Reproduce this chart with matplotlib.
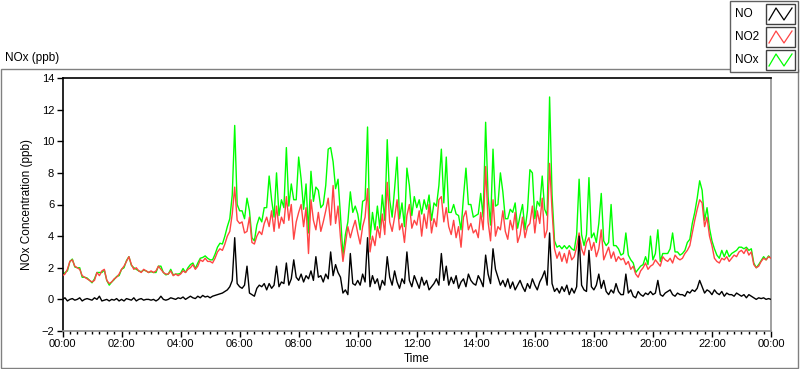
import numpy as np
import matplotlib.pyplot as plt
from matplotlib.lines import Line2D
from matplotlib.patches import Rectangle
from matplotlib.ticker import MultipleLocator, FixedLocator

# 5-minute readings over one day (ppb), one row per hour
no2 = [
    1.5, 1.6, 1.9, 2.4, 2.5, 2.1, 2.0, 1.9, 1.5, 1.4, 1.3, 1.2,
    1.1, 1.2, 1.7, 1.5, 1.8, 1.9, 1.2, 1.0, 1.1, 1.3, 1.4, 1.6,
    1.9, 2.1, 2.4, 2.7, 2.2, 1.9, 2.0, 1.8, 1.7, 1.9, 1.8, 1.7,
    1.8, 1.7, 1.8, 2.1, 1.9, 1.7, 1.6, 1.6, 1.8, 1.5, 1.6, 1.5,
    1.6, 1.8, 1.7, 1.9, 2.0, 2.2, 1.9, 2.1, 2.5, 2.4, 2.6, 2.4,
    2.4, 2.3, 2.6, 3.0, 3.2, 3.1, 3.5, 4.0, 4.3, 5.4, 7.1, 5.0,
    4.8, 4.9, 4.2, 4.3, 5.2, 3.6, 3.5, 4.0, 4.3, 4.1, 4.8, 5.2,
    4.6, 5.6, 4.3, 5.9, 4.5, 5.2, 4.8, 6.5, 5.0, 6.0, 3.8, 4.9,
    5.5, 6.0, 4.6, 5.8, 2.9, 6.3, 5.0, 4.4, 5.5, 4.3, 4.9, 5.6,
    6.4, 4.7, 7.2, 4.8, 5.9, 3.9, 2.4, 3.5, 4.6, 3.9, 4.5, 5.0,
    4.2, 3.5, 4.6, 5.2, 7.0, 3.0, 4.0, 3.4, 4.6, 3.9, 5.4, 4.1,
    7.4, 4.9, 4.3, 5.2, 6.3, 4.4, 4.8, 3.6, 5.3, 6.0, 4.5, 5.0,
    4.7, 5.6, 4.0, 5.4, 4.5, 6.0, 4.2, 5.1, 4.6, 6.3, 6.5, 4.9,
    5.8, 4.6, 4.1, 5.0, 3.9, 4.6, 3.3, 5.2, 5.6, 4.4, 4.8, 4.2,
    4.4, 3.9, 5.5, 4.4, 8.4, 4.9, 3.7, 6.3, 4.0, 4.6, 4.4, 5.6,
    4.3, 3.8, 5.0, 4.4, 5.5, 3.6, 4.1, 5.2, 3.9, 4.6, 4.8, 5.9,
    4.2, 5.6, 4.8, 6.4, 3.9, 4.4, 8.6, 5.6, 3.2, 2.6, 3.0, 2.4,
    2.9, 2.3, 3.1, 2.5, 2.7, 3.3, 4.2, 3.2, 2.8, 3.6, 3.9, 3.1,
    3.6, 2.7, 3.2, 4.4, 2.5, 2.9, 3.3, 2.6, 3.0, 2.4, 2.7, 2.5,
    2.6, 2.2, 2.4, 1.9, 2.1, 1.6, 1.4, 1.8, 2.0, 2.3, 1.9, 2.1,
    2.2, 2.5, 2.3, 2.1, 2.7, 2.5, 2.4, 2.6, 2.3, 2.8, 2.6, 2.5,
    2.6, 2.9, 3.1, 3.4, 4.2, 5.0, 5.7, 6.3, 6.1, 4.6, 5.2, 4.0,
    3.4, 2.6, 2.4, 2.3, 2.6, 2.5, 2.7, 2.4, 2.6, 2.8, 2.7, 3.0,
    3.1, 2.9, 3.2, 2.8, 3.0, 2.2, 2.0, 2.1, 2.4, 2.6, 2.5, 2.7,
    2.6,
]

no = [
    0.0, 0.1, -0.1, 0.0, 0.05, -0.05, 0.0, 0.1, -0.1, 0.0, 0.05, 0.0,
    -0.05, 0.1, 0.0, 0.2, -0.1, -0.05, 0.0, -0.1, 0.0, -0.05, 0.05, -0.1,
    0.0, -0.1, 0.05, 0.0, -0.05, 0.1, -0.1, 0.0, 0.05, -0.05, 0.0, 0.0,
    -0.05, 0.0, -0.1, 0.0, 0.2, 0.0, -0.05, 0.0, 0.1, 0.05, 0.0, 0.1,
    0.05, 0.15, 0.0, 0.1, 0.2, 0.1, 0.05, 0.2, 0.1, 0.25, 0.15, 0.2,
    0.1, 0.2, 0.25, 0.3, 0.35, 0.4, 0.5, 0.6, 0.8, 1.2, 3.9, 1.0,
    0.8, 0.7, 0.9, 2.1, 0.4, 0.3, 0.2, 0.7, 0.9, 0.8, 1.0, 0.6,
    1.0, 0.7, 0.9, 2.1, 0.8, 1.1, 1.0, 2.3, 0.9, 1.3, 2.5, 1.4,
    1.2, 1.6, 1.1, 1.5, 1.3, 1.8, 1.2, 2.7, 1.4, 1.5, 1.1, 1.6,
    1.3, 3.0, 1.5, 2.2, 1.7, 1.4, 0.4, 0.6, 0.3, 2.9, 1.0, 0.9,
    1.2, 0.9, 1.6, 1.1, 3.9, 0.8, 1.5, 1.0, 1.3, 0.6, 1.2, 0.9,
    2.7, 1.4, 0.9, 1.8, 1.1, 0.7, 1.3, 1.0, 3.0, 1.2, 0.8, 1.5,
    1.1, 0.7, 1.4, 0.9, 1.2, 0.6, 0.8, 1.0, 1.3, 0.9, 2.9, 1.2,
    2.1, 0.9, 1.4, 1.0, 1.5, 0.7, 1.1, 1.3, 0.8, 1.6, 1.2, 1.0,
    0.9, 1.5, 1.2, 0.8, 2.8, 1.6, 1.0, 3.2, 1.9, 1.4, 0.9, 1.2,
    0.8, 1.3, 0.7, 1.1, 0.6, 0.9, 1.2, 0.8, 0.5, 1.0, 0.7, 1.3,
    0.9, 0.6, 1.1, 1.4, 1.8, 0.9, 4.2, 1.0, 0.5, 0.7, 0.4, 0.8,
    0.5, 0.9, 0.3, 0.7, 0.4, 0.8, 4.0, 0.9, 0.6, 0.5, 3.1, 0.8,
    0.6, 0.9, 1.6, 0.7, 1.2, 0.5, 0.3, 0.6, 0.4, 1.0, 0.5, 0.3,
    0.3, 1.6, 0.4, 0.6, 0.2, 0.1, 0.5, 0.3, 0.2, 0.4, 0.3, 0.5,
    0.3, 0.4, 1.2, 0.3, 0.2, 0.4, 0.5, 0.6, 0.3, 0.2, 0.4, 0.3,
    0.3, 0.2, 0.5, 0.4, 0.6, 0.5, 0.7, 1.2, 0.8, 0.4, 0.6, 0.5,
    0.3, 0.6, 0.4, 0.3, 0.5, 0.2, 0.4, 0.3, 0.3, 0.2, 0.4, 0.3,
    0.2, 0.3, 0.1, 0.3, 0.2, 0.1, 0.0, 0.1, 0.05, 0.1, 0.0, 0.05,
    0.0,
]

nox = [
    1.5, 1.7, 1.8, 2.4, 2.55, 2.05, 2.0, 2.0, 1.4, 1.4, 1.35, 1.2,
    1.05, 1.3, 1.7, 1.7, 1.7, 1.85, 1.2, 0.9, 1.1, 1.25, 1.45, 1.5,
    1.9, 2.0, 2.45, 2.7, 2.15, 2.0, 1.9, 1.8, 1.75, 1.85, 1.8, 1.7,
    1.75, 1.7, 1.7, 2.1, 2.1, 1.7, 1.55, 1.6, 1.9, 1.55, 1.6, 1.6,
    1.65, 1.95, 1.7, 2.0, 2.2, 2.3, 1.95, 2.3, 2.6, 2.65, 2.75, 2.6,
    2.5, 2.5, 2.85, 3.3, 3.55, 3.5, 4.0, 4.6, 5.1, 6.6, 11.0, 6.0,
    5.6, 5.6, 5.1, 6.4, 5.6, 3.9, 3.7, 4.7, 5.2, 4.9, 5.8, 5.8,
    7.8, 6.3, 5.2, 8.0, 5.3, 6.3, 5.8, 9.6, 5.9, 7.3, 6.3, 6.3,
    9.0, 7.6, 5.7, 7.3, 4.2, 8.1, 6.2, 7.1, 6.9, 5.8, 6.0, 7.2,
    9.5, 9.6, 8.7, 7.0, 7.6, 5.3, 2.8, 4.1, 4.9, 6.8, 5.5, 5.9,
    5.4, 4.4, 6.2, 6.3, 10.9, 3.8, 5.5, 4.4, 5.9, 4.5, 6.6, 5.0,
    10.1, 6.3, 5.2, 7.0, 9.0, 5.1, 6.1, 4.6, 8.3, 7.2, 5.3, 6.5,
    5.8, 6.3, 5.4, 6.3, 5.7, 6.6, 5.0, 6.1, 5.9, 7.2, 9.5, 6.1,
    9.0, 5.5, 5.5, 6.0, 5.4, 5.3, 4.4, 6.5, 8.3, 6.0, 6.0, 5.2,
    5.3, 5.4, 6.7, 5.2, 11.2, 6.5, 4.7, 9.5, 5.9, 6.0, 8.0, 6.8,
    5.1, 5.1, 5.7, 5.5, 6.1, 4.5, 5.3, 6.0, 4.4, 5.6, 8.2, 8.0,
    5.1, 6.2, 5.9, 7.8, 5.7, 5.3, 12.8, 6.6, 3.7, 3.3, 3.4, 3.2,
    3.4, 3.2, 3.4, 3.2, 3.1, 4.1, 7.6, 4.1, 3.4, 4.1, 7.7, 3.9,
    4.2, 3.6, 4.8, 6.7, 3.7, 3.4, 3.6, 6.0, 3.4, 3.4, 3.2, 2.8,
    2.9, 4.2, 2.8, 2.5, 2.3, 1.7, 1.9, 2.1, 2.2, 2.7, 2.2, 4.0,
    2.5, 2.9, 4.4, 2.4, 2.9, 2.9, 2.9, 3.2, 4.2, 3.0, 3.0, 2.8,
    2.9, 3.1, 3.6, 3.8, 4.8, 5.5, 6.4, 7.5, 6.9, 5.0, 5.8, 4.5,
    3.7, 3.2, 2.8, 2.6, 3.1, 2.7, 3.1, 2.7, 2.9, 3.0, 3.1, 3.3,
    3.3, 3.2, 3.3, 3.1, 3.2, 2.3, 2.0, 2.2, 2.45, 2.7, 2.5, 2.75,
    2.6,
]

hours = np.arange(len(no2)) * 5 / 60.0
tick_hours = list(range(0, 25, 2))
tick_labels = ['%02d:00' % (h % 24) for h in tick_hours]

W, H = 800, 369
fig = plt.figure(figsize=(W / 100, H / 100), dpi=100)
fig.patch.set_facecolor('white')
plt.rcParams['font.family'] = ['Liberation Sans', 'DejaVu Sans']

# outer frame of the graph panel
fig.add_artist(Rectangle((0.5 / W, 1 - 368 / H), 797 / W, (368 - 69) / H,
                         transform=fig.transFigure, fill=False,
                         edgecolor='#808080', lw=1))
fig.text(5 / W, 1 - 58 / H, 'NOx (ppb)', fontsize=8.5, va='center', ha='left')

ax = fig.add_axes([62.5 / W, 1 - 331 / H, (771 - 62.5) / W, (331 - 78) / H])
ax.plot(hours, nox, color='#00ff00', lw=1.0, zorder=2)
ax.plot(hours, no2, color='#ff4444', lw=1.0, zorder=3)
ax.plot(hours, no, color='black', lw=1.0, zorder=4)

ax.set_xlim(0, 24)
ax.set_ylim(-2, 14)
ax.xaxis.set_major_locator(FixedLocator(tick_hours))
ax.set_xticklabels(tick_labels)
ax.xaxis.set_minor_locator(MultipleLocator(0.25))
ax.yaxis.set_major_locator(MultipleLocator(2))
ax.tick_params(axis='both', which='major', labelsize=8, length=4, width=1,
               direction='out', pad=2)
ax.tick_params(axis='x', which='minor', length=2.5, width=1, direction='out')
ax.set_xlabel('Time', fontsize=8.5, labelpad=3)
ax.set_ylabel('NOx Concentration (ppb)', fontsize=8.5, labelpad=6)

for side in ['top', 'left']:
    ax.spines[side].set_color('black')
for side in ['bottom', 'right']:
    ax.spines[side].set_color('#909090')
for s in ax.spines.values():
    s.set_linewidth(1.2)

# legend box top right, LabVIEW style
fig.add_artist(Rectangle((730 / W, 1 - 72 / H), 68 / W, 71 / H,
                         transform=fig.transFigure, facecolor='white',
                         edgecolor='#606060', lw=1, zorder=5))
leg_names = ['NO', 'NO2', 'NOx']
leg_colors = ['black', '#ff4444', '#00ff00']
for i, (name, col) in enumerate(zip(leg_names, leg_colors)):
    yc = 14 + i * 23
    fig.text(735 / W, 1 - yc / H, name, fontsize=8.5, va='center', ha='left', zorder=6)
    x0, x1, y0, y1 = 766, 795, yc - 10, yc + 10
    fig.add_artist(Rectangle((x0 / W, 1 - y1 / H), (x1 - x0) / W, (y1 - y0) / H,
                             transform=fig.transFigure, facecolor='white',
                             edgecolor='#404040', lw=1, zorder=6))
    zx = [x0 + 3, x0 + 10, x0 + 18, x1 - 3]
    zy = [y1 - 4, y0 + 4, y1 - 4, y0 + 4]
    fig.add_artist(Line2D([v / W for v in zx], [1 - v / H for v in zy],
                          transform=fig.transFigure, color=col, lw=0.9, zorder=7))

fig.savefig('out.png', dpi=100)
